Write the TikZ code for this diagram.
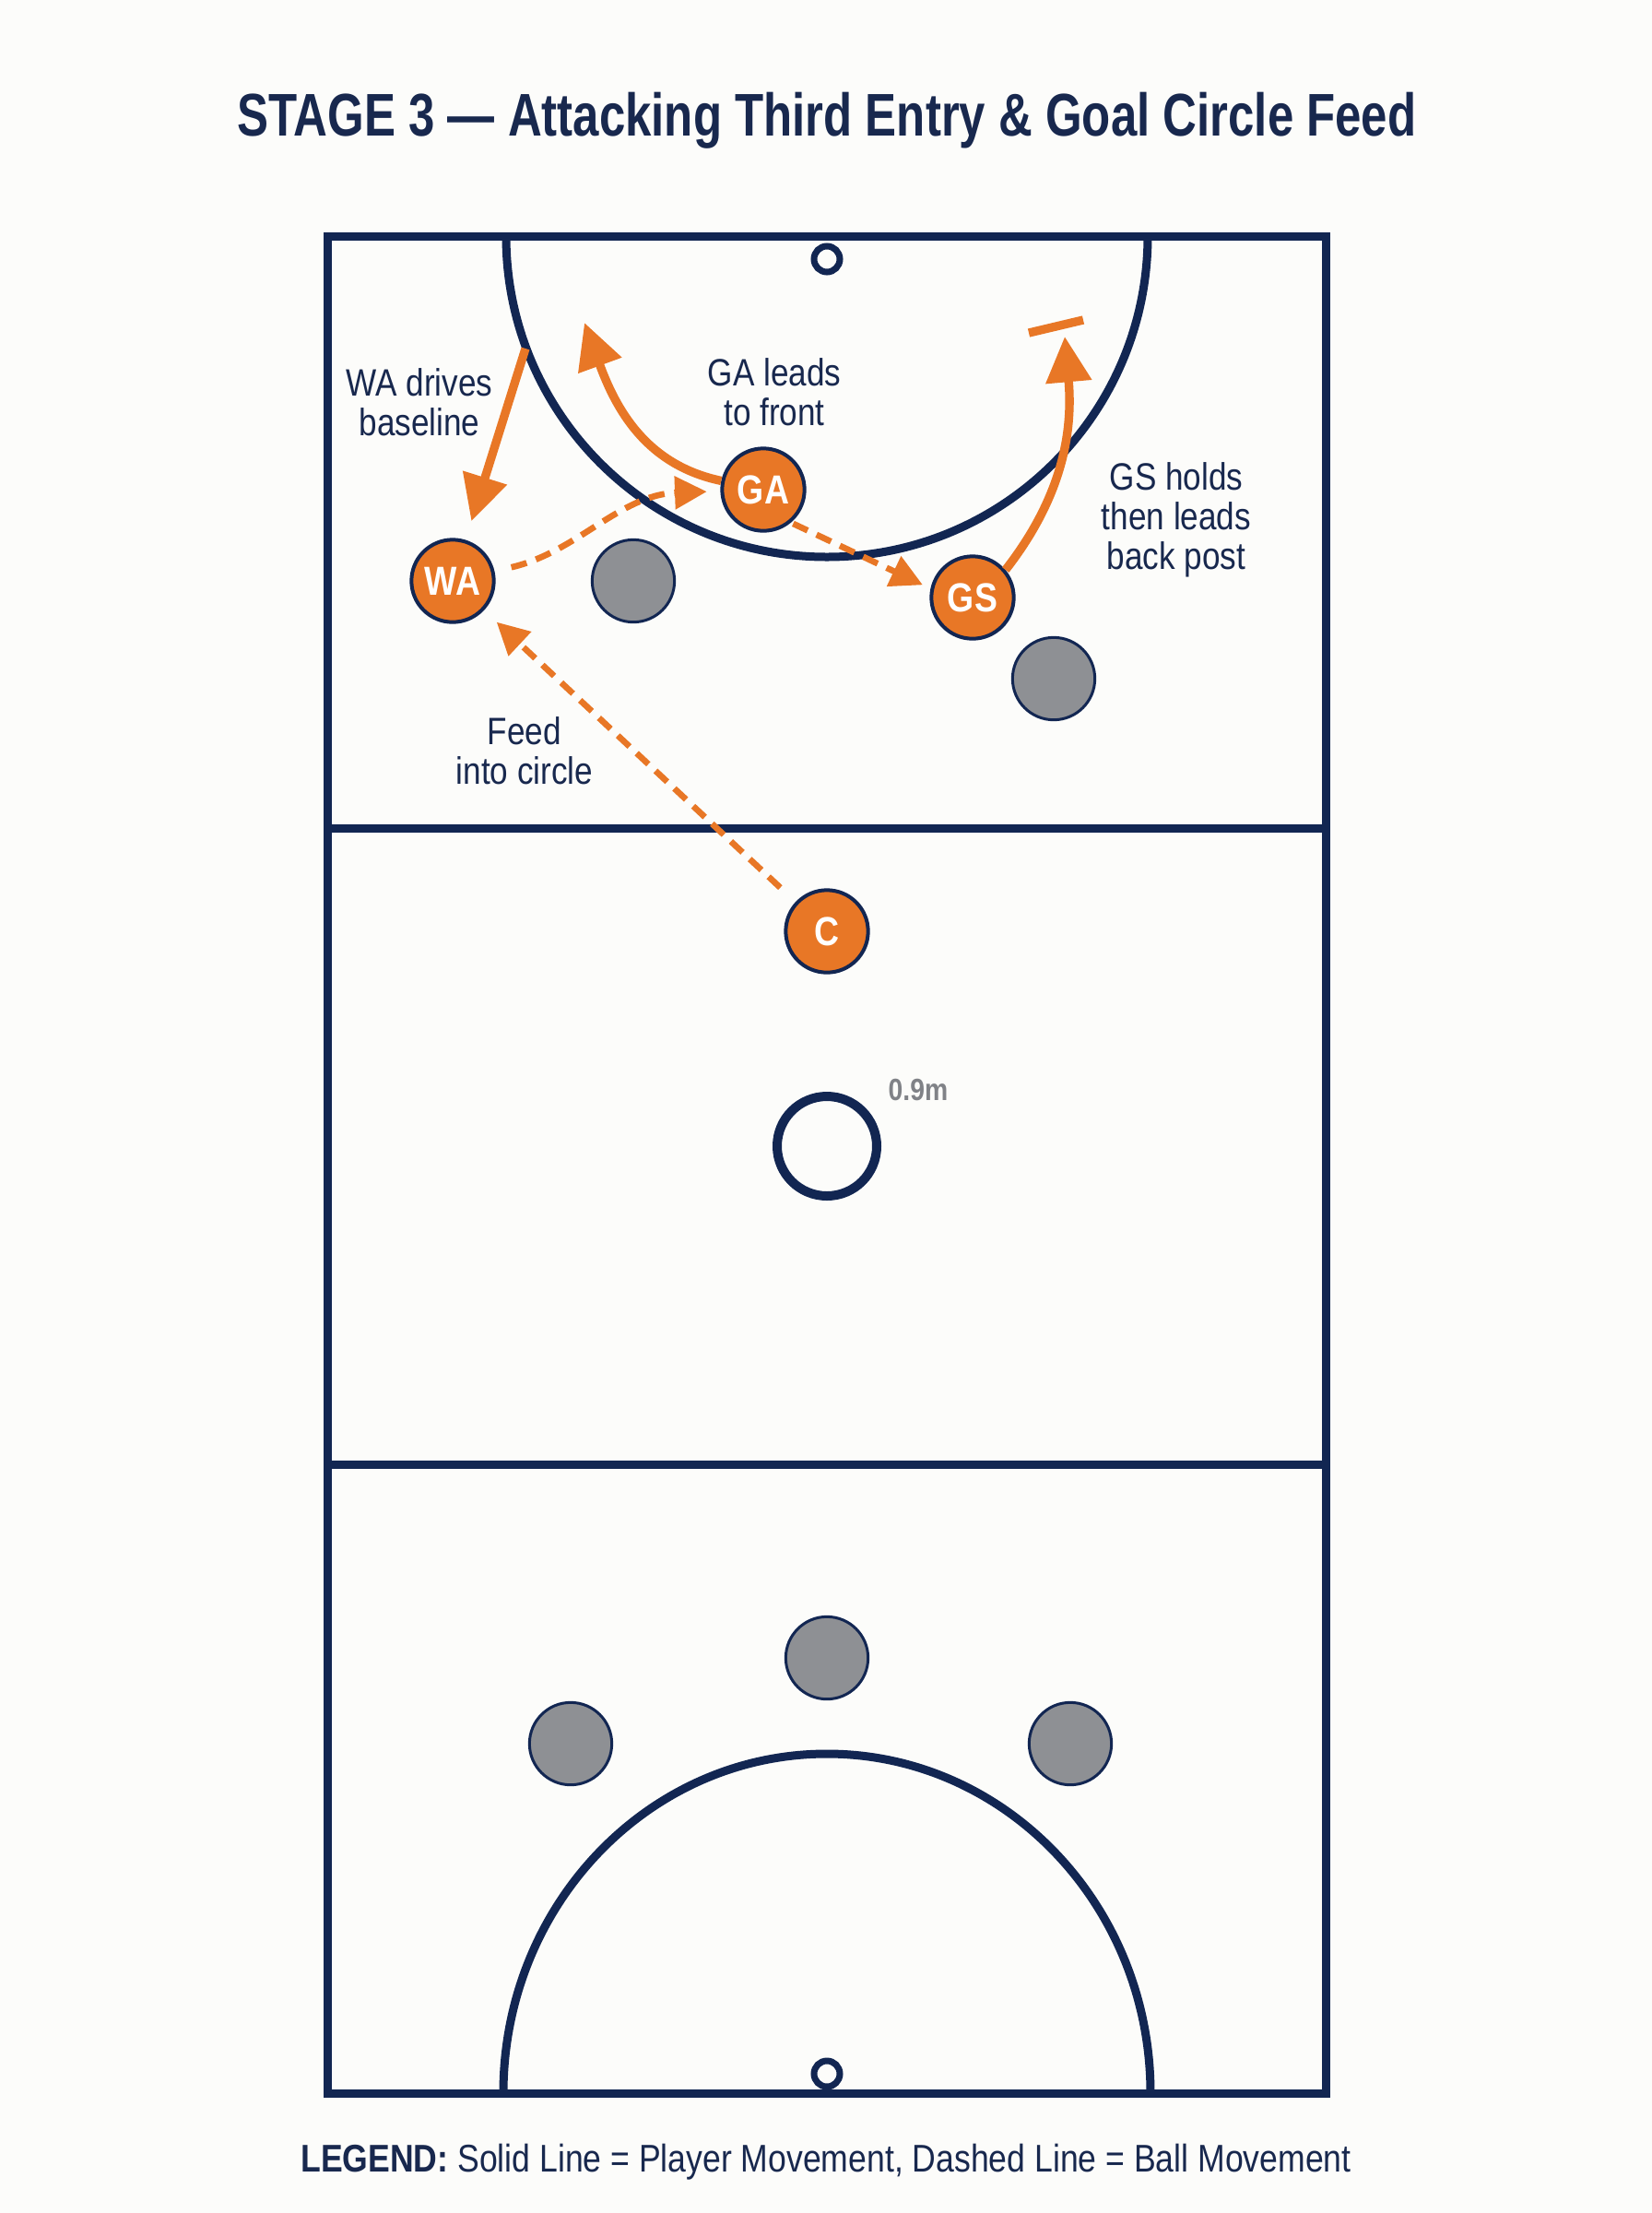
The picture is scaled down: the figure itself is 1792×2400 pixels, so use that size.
\documentclass[tikz,border=0pt]{standalone}
\usepackage{fontspec}
\setmainfont{Liberation Sans}[FakeStretch=0.85]
\newfontfamily\titlefont{Liberation Sans}[FakeStretch=0.78]
\usetikzlibrary{arrows.meta}
\definecolor{courtnavy}{RGB}{18,38,82}
\definecolor{textnavy}{RGB}{24,40,78}
\definecolor{moveorange}{RGB}{232,119,38}
\definecolor{defgray}{RGB}{142,144,148}
\definecolor{markgray}{RGB}{128,130,135}
\definecolor{paper}{RGB}{252,252,250}

\begin{document}
\begin{tikzpicture}[x=0.75pt,y=0.75pt,yscale=-1,xscale=1,
    court/.style={draw=courtnavy,line width=6.75pt},
    player/.style={circle,draw=courtnavy,line width=3pt,fill=moveorange,minimum size=67pt,inner sep=0pt,text=white,font=\fontsize{33}{33}\selectfont\bfseries},
    defender/.style={circle,draw=courtnavy,line width=2.25pt,fill=defgray,minimum size=67pt,inner sep=0pt},
    run/.style={draw=moveorange,line width=7pt,-{Triangle[length=37pt,width=36pt]}},
    pass/.style={draw=moveorange,line width=5pt,dash pattern=on 13pt off 8pt,-{Triangle[length=26pt,width=26pt]}},
    note/.style={text=textnavy,align=center,anchor=north,inner sep=0pt,font=\fontsize{31}{32.25}\selectfont}]
    %set diagram left start at 0, and has height of 2400
    \fill [paper] (0,0) rectangle (1792,2400);
    \useasboundingbox (0,0) rectangle (1792,2400);
    
    %Shape: Rectangle [court] 
    \draw [court]   (355,256) rectangle (1438,2270) ;
    %Straight Lines [thirds] 
    \draw [court]   (355,898) -- (1438,898) ;
    \draw [court]   (355,1588) -- (1438,1588) ;
    %Shape: Arc [goal circles] 
    \draw [court]   (549,256) arc [start angle=180, end angle=0, radius=348] ;
    \draw [court]   (546,2270) arc [start angle=180, end angle=360, x radius=351, y radius=368] ;
    %Shape: Circle [posts and centre circle] 
    \draw [court, line width=5.25pt, fill=paper]   (897,281) circle [radius=14] ;
    \draw [court, line width=5.25pt, fill=paper]   (897,2249) circle [radius=14] ;
    \draw [court, line width=7.5pt]   (897,1243) circle [radius=54] ;
    
    % Defenders
    \node [defender] (d1) at (687,630) {};
    \node [defender] (d2) at (1143,736) {};
    \node [defender] (d3) at (897,1798) {};
    \node [defender] (d4) at (619,1891) {};
    \node [defender] (d5) at (1161,1891) {};
    
    % Attackers
    \node [player] (GA) at (828,531) {GA};
    \node [player] (WA) at (491,630) {WA};
    \node [player] (GS) at (1055,648) {GS};
    \node [player] (C) at (897,1010) {C};
    
    % Player movement
    \coordinate (wadrive) at (570,378);
    \coordinate (gafront) at (634,350);
    \coordinate (gsback) at (1155,365);
    \coordinate (barl) at (1116,361);
    \coordinate (barr) at (1175,347);
    \draw [run, shorten >=16pt]   (wadrive) -- (WA) ;
    \draw [run]   (GA) to [out=-150, in=70] (gafront) ;
    \draw [run]   (GS.40) to [out=-52, in=85] (gsback) ;
    \draw [run, -]   (barl) -- (barr) ;
    
    % Ball movement
    \draw [pass, shorten <=14pt, shorten >=11pt]   (WA) to [out=-30, in=175] (GA) ;
    \draw [pass, shorten <=2pt, shorten >=7pt]   (GA.-50) -- (GS.168) ;
    \draw [pass, shorten <=17pt, shorten >=14pt]   (C) -- (WA) ;
    
    % Text Node
    \node [note] (wanote) at (455,399) {WA drives\\baseline};
    % Text Node
    \node [note] (ganote) at (840,388) {GA leads\\to front};
    % Text Node
    \node [note] (gsnote) at (1276,501) {GS holds\\then leads\\back post};
    % Text Node
    \node [note] (feednote) at (569,777) {Feed\\into circle};
    % Text Node
    \node [text=markgray, anchor=base, inner sep=0pt, font=\fontsize{25}{25}\selectfont\bfseries] (radius) at (996,1193) {0.9m};
    % Text Node
    \node [text=textnavy, anchor=base, inner sep=0pt, font=\titlefont\bfseries\fontsize{49}{49}\selectfont] (title) at (897,147) {STAGE 3 — Attacking Third Entry \& Goal Circle Feed};
    % Text Node
    \node [text=textnavy, anchor=base, inner sep=0pt, font=\fontsize{31.4}{31.4}\selectfont] (legend) at (896,2355) {\textbf{LEGEND:} Solid Line = Player Movement, Dashed Line = Ball Movement};
    
\end{tikzpicture}
\end{document}
